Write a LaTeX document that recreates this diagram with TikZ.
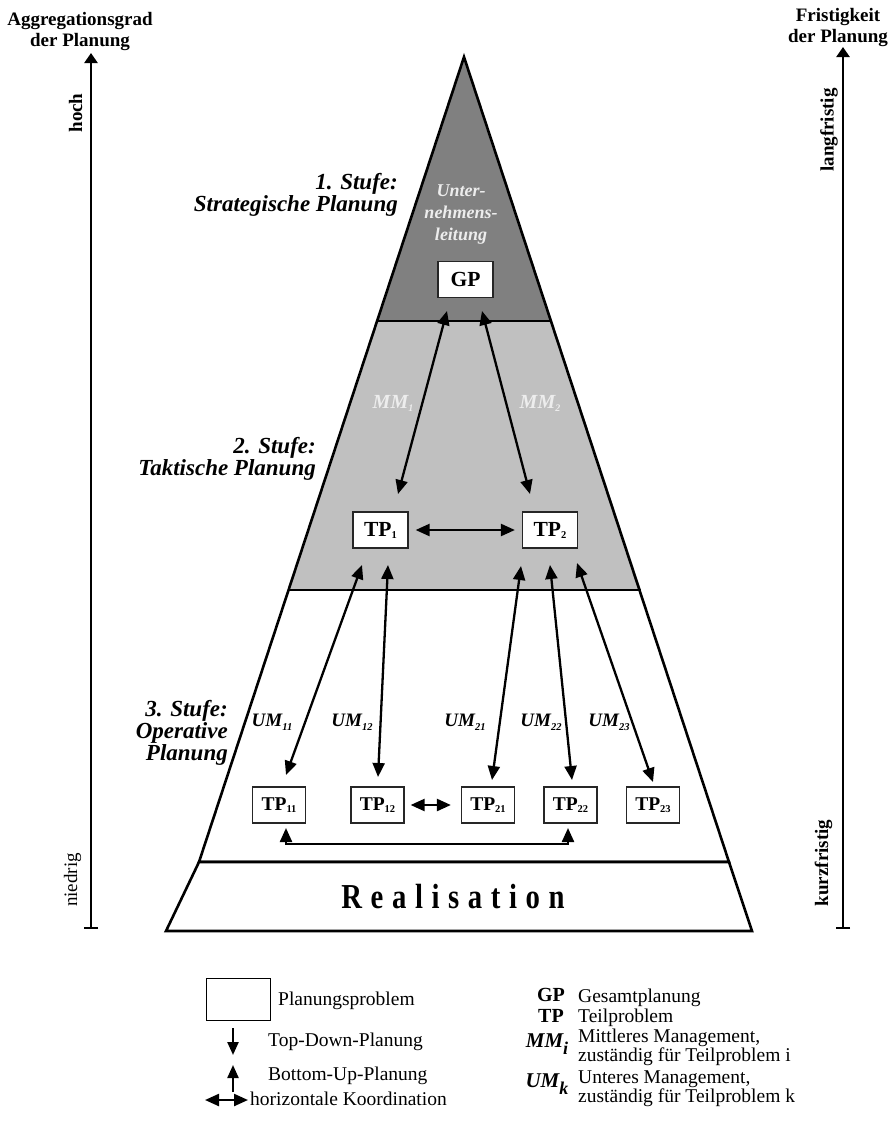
\documentclass[tikz,border=0pt]{standalone}
\usepackage{graphicx}
\usepackage{fontspec}
\setmainfont{Liberation Serif}
\usetikzlibrary{arrows.meta}

% lowered small index, e.g. TP with index 1
\newcommand{\lowsub}[3]{\raisebox{-#1}{\fontsize{#2}{#2}\selectfont #3}}

\definecolor{stageA}{HTML}{808080}
\definecolor{stageB}{HTML}{C0C0C0}
\definecolor{paletext}{HTML}{EDEDED}

\begin{document}
\begin{tikzpicture}[x=1pt,y=-1pt,
  every node/.style={inner sep=0pt},
  outline/.style={line width=2.6pt, line join=miter},
  tpbox/.style={draw=black!85, fill=white, line width=1.2pt,
    minimum width=55pt, minimum height=36pt,
    font=\fontsize{21.5}{21.5}\selectfont\bfseries},
  tpsmall/.style={tpbox, minimum width=53pt,
    font=\fontsize{19.5}{19.5}\selectfont\bfseries},
  link/.style={line width=2.3pt,
    {Triangle[length=14pt,width=12pt]}-{Triangle[length=14pt,width=12pt]}},
  downlink/.style={line width=2.3pt, -{Triangle[length=13pt,width=11pt]}},
  axis/.style={line width=2.4pt,
    {Bar[width=14pt]}-{Triangle[length=10pt,width=13pt]}},
  stagelabel/.style={align=right, font=\fontsize{23}{22}\selectfont\bfseries\itshape},
  mmlabel/.style={text=paletext, font=\fontsize{20}{20}\selectfont\bfseries\itshape},
  umlabel/.style={font=\fontsize{19}{19}\selectfont\bfseries\itshape},
  axislabel/.style={rotate=90, font=\fontsize{19}{19}\selectfont\bfseries},
  title/.style={align=center, font=\fontsize{19}{21}\selectfont\bfseries},
  legend/.style={font=\fontsize{19.5}{16}\selectfont},
  legendkey/.style={font=\fontsize{20}{20}\selectfont\bfseries}
]
\useasboundingbox (0,0) rectangle (895,1130);
\fill[white] (0,0) rectangle (895,1130);

% ---------- pyramid ----------
\coordinate (apex) at (464,57);
\coordinate (s1l) at (377,321);   \coordinate (s1r) at (552,321);
\coordinate (s2l) at (288.5,590); \coordinate (s2r) at (641,590);
\coordinate (s3l) at (199,862);   \coordinate (s3r) at (729,862);
\coordinate (rbl) at (166,931);   \coordinate (rbr) at (752,931);

\fill[stageA] (apex) -- (s1r) -- (s1l) -- cycle;
\fill[stageB] (s1l) -- (s1r) -- (s2r) -- (s2l) -- cycle;
\fill[white]  (s2l) -- (s2r) -- (s3r) -- (s3l) -- cycle;
\draw[outline] (apex) -- (s3l) -- (s3r) -- cycle;
\draw[outline] (s1l) -- (s1r);
\draw[outline] (s2l) -- (s2r);
\draw[outline, fill=white] (s3l) -- (s3r) -- (rbr) -- (rbl) -- cycle;

\node (real) at (453,897) {\scalebox{0.82}[1]{\fontsize{35}{35}\selectfont\bfseries
  R\hspace{10.5pt}e\hspace{10.5pt}a\hspace{10.5pt}l\hspace{10.5pt}i\hspace{10.5pt}s\hspace{10.5pt}a\hspace{10.5pt}t\hspace{10.5pt}i\hspace{10.5pt}o\hspace{10.5pt}n}};

% ---------- stage labels ----------
\node[stagelabel, anchor=east] (st1) at (398,195) {1. Stufe:\\Strategische Planung};
\node[stagelabel, anchor=east] (st2) at (316,459) {2. Stufe:\\Taktische Planung};
\node[stagelabel, anchor=east] (st3) at (228,733) {3. Stufe:\\Operative\\Planung};

\node[align=center, text=paletext, font=\fontsize{18}{22}\selectfont\bfseries\itshape]
  (ul) at (461,215) {Unter-\\nehmens-\\leitung};

% ---------- planning problems ----------
\node[tpbox] (GP)  at (465.5,279.5) {GP};
\node[tpbox] (TP1) at (380.5,530) {TP\lowsub{2pt}{10.5}{1}};
\node[tpbox] (TP2) at (550,530)   {TP\lowsub{2pt}{10.5}{2}};

\node[tpsmall] (TP11) at (279,805)   {TP\lowsub{2pt}{10.5}{11}};
\node[tpsmall] (TP12) at (377.5,805) {TP\lowsub{2pt}{10.5}{12}};
\node[tpsmall] (TP21) at (488,805)   {TP\lowsub{2pt}{10.5}{21}};
\node[tpsmall] (TP22) at (570.5,805) {TP\lowsub{2pt}{10.5}{22}};
\node[tpsmall] (TP23) at (653,805)   {TP\lowsub{2pt}{10.5}{23}};

% ---------- connectors ----------
\coordinate (m1t) at (447,311); \coordinate (m1b) at (398,494);
\coordinate (m2t) at (482,311); \coordinate (m2b) at (530,494);
\draw[link] (m1t) -- (m1b);
\draw[link] (m2t) -- (m2b);
\draw[link, shorten <=7pt, shorten >=7pt] (TP1) -- (TP2);

\node[mmlabel] (mm1) at (393,403) {MM\lowsub{3pt}{10}{1}};
\node[mmlabel] (mm2) at (540,403) {MM\lowsub{3pt}{10}{2}};

\coordinate (u11t) at (362,565); \coordinate (u11b) at (286,775);
\coordinate (u12t) at (388,565); \coordinate (u12b) at (378,777);
\coordinate (u21t) at (521,566); \coordinate (u21b) at (492,780);
\coordinate (u22t) at (550,565); \coordinate (u22b) at (572,780);
\coordinate (u23t) at (577,563); \coordinate (u23b) at (653,782);
\draw[link] (u11t) -- (u11b);
\draw[link] (u12t) -- (u12b);
\draw[link] (u21t) -- (u21b);
\draw[link] (u22t) -- (u22b);
\draw[link] (u23t) -- (u23b);

\node[umlabel] (um11) at (272,722) {UM\lowsub{4pt}{10.5}{11}};
\node[umlabel] (um12) at (352,722) {UM\lowsub{4pt}{10.5}{12}};
\node[umlabel] (um21) at (465,722) {UM\lowsub{4pt}{10.5}{21}};
\node[umlabel] (um22) at (541,722) {UM\lowsub{4pt}{10.5}{22}};
\node[umlabel] (um23) at (609,722) {UM\lowsub{4pt}{10.5}{23}};

\draw[link, shorten <=6pt, shorten >=10pt] (TP12) -- (TP21);

\coordinate (b1) at (286,828); \coordinate (b2) at (568,828);
\draw[link] (b1) -- ++(0,16) -| (b2);

% ---------- axes ----------
\coordinate (la0) at (91,929);  \coordinate (la1) at (91,53);
\coordinate (ra0) at (843,929); \coordinate (ra1) at (843,47);
\draw[axis] (la0) -- (la1);
\draw[axis] (ra0) -- (ra1);

\node[title] (lt) at (80,32) {Aggregationsgrad\\der Planung};
\node[title] (rt) at (838,28) {Fristigkeit\\der Planung};
\node[axislabel] (hoch) at (75.5,113) {hoch};
\node[axislabel, font=\fontsize{19}{19}\selectfont] (nied) at (72.5,880) {niedrig};
\node[axislabel] (lang) at (829,130) {langfristig};
\node[axislabel] (kurz) at (823.5,863) {kurzfristig};

% ---------- legend ----------
\node[draw, line width=1pt, minimum width=64pt, minimum height=42pt] (lbox) at (238,999) {};
\node[legend, anchor=west] (lboxt) at (278,1001) {Planungsproblem};

\coordinate (ld0) at (233,1028); \coordinate (ld1) at (233,1055);
\draw[downlink] (ld0) -- (ld1);
\node[legend, anchor=west] (ldt) at (268,1042) {Top-Down-Planung};

\coordinate (lu0) at (233,1092); \coordinate (lu1) at (233,1065);
\draw[downlink] (lu0) -- (lu1);
\node[legend, anchor=west] (lut) at (268,1076) {Bottom-Up-Planung};

\coordinate (lh0) at (205,1100); \coordinate (lh1) at (248,1100);
\draw[link] (lh0) -- (lh1);
\node[legend, anchor=west] (lht) at (250,1099) {horizontale Koordination};

\node[legendkey] (kGP) at (551,995) {GP};
\node[legend, anchor=west] (kGPt) at (578,998) {Gesamtplanung};
\node[legendkey] (kTP) at (551,1016) {TP};
\node[legend, anchor=west] (kTPt) at (578,1018) {Teilproblem};
\node[legendkey, font=\fontsize{21}{21}\selectfont\bfseries\itshape] (kMM) at (547,1044)
  {MM\lowsub{7pt}{18}{i}};
\node[legend, anchor=west, align=left] (kMMt) at (578,1047)
  {Mittleres Management,\\zuständig für Teilproblem i};
\node[legendkey, font=\fontsize{21}{21}\selectfont\bfseries\itshape] (kUM) at (547,1084)
  {UM\lowsub{7pt}{18}{k}};
\node[legend, anchor=west, align=left] (kUMt) at (578,1089)
  {Unteres Management,\\zuständig für Teilproblem k};
\end{tikzpicture}
\end{document}
